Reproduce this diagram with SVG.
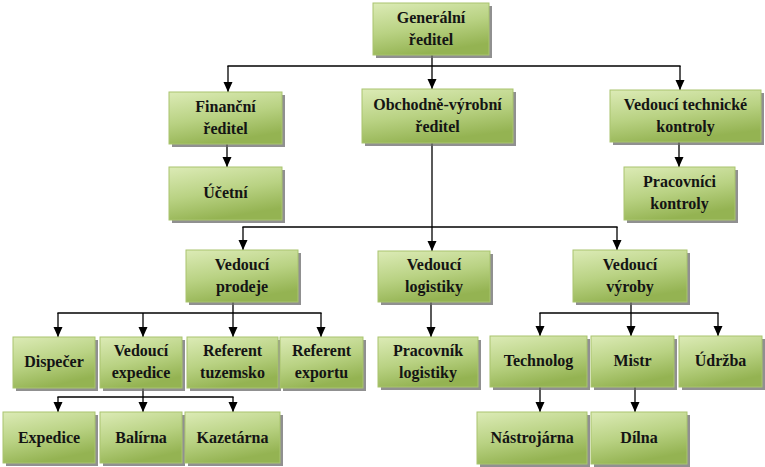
<svg xmlns="http://www.w3.org/2000/svg" width="765" height="467" viewBox="0 0 765 467">
<defs>
<linearGradient id="g" x1="0" y1="0" x2="0.35" y2="1">
<stop offset="0" stop-color="#dcebb6"/>
<stop offset="0.55" stop-color="#b9d283"/>
<stop offset="1" stop-color="#94b352"/>
</linearGradient>
<marker id="ah" markerUnits="userSpaceOnUse" markerWidth="10" markerHeight="10" viewBox="0 0 10 10" refX="10" refY="5" orient="auto">
<path d="M0,0.5 L10,5 L0,9.5 Z" fill="#000"/>
</marker>
</defs>
<style>
.b rect.s{fill:#6b6b6b;opacity:0.75}
.b rect.f{fill:url(#g);stroke:#a9c46f;stroke-width:1}
.b text{font-family:"Liberation Serif","Times New Roman",serif;font-weight:bold;font-size:16px;fill:#141414;text-anchor:middle}
.c line{stroke:#000;stroke-width:1.3}
.c line.a{marker-end:url(#ah)}
</style>
<rect width="765" height="467" fill="#fff"/>
<g class="c" id="connectors">
<line x1="432" y1="55" x2="432" y2="66"/>
<line x1="227.4" y1="66" x2="680.6" y2="66"/>
<line class="a" x1="228" y1="66" x2="228" y2="92"/>
<line class="a" x1="432" y1="66" x2="432" y2="89"/>
<line class="a" x1="680" y1="66" x2="680" y2="90"/>
<line class="a" x1="227" y1="144" x2="227" y2="167"/>
<line class="a" x1="679" y1="142" x2="679" y2="167"/>
<line x1="432" y1="143" x2="432" y2="227"/>
<line x1="242.4" y1="227" x2="617.6" y2="227"/>
<line class="a" x1="243" y1="227" x2="243" y2="250"/>
<line class="a" x1="432" y1="227" x2="432" y2="251"/>
<line class="a" x1="617" y1="227" x2="617" y2="250"/>
<line x1="233" y1="302" x2="233" y2="313"/>
<line x1="57.4" y1="313" x2="321.6" y2="313"/>
<line class="a" x1="58" y1="313" x2="58" y2="337"/>
<line class="a" x1="143" y1="313" x2="143" y2="337"/>
<line class="a" x1="233" y1="313" x2="233" y2="337"/>
<line class="a" x1="321" y1="313" x2="321" y2="337"/>
<line x1="143" y1="388" x2="143" y2="397"/>
<line x1="57.4" y1="397" x2="233.6" y2="397"/>
<line class="a" x1="58" y1="397" x2="58" y2="412"/>
<line class="a" x1="143" y1="397" x2="143" y2="412"/>
<line class="a" x1="233" y1="397" x2="233" y2="412"/>
<line class="a" x1="431" y1="302" x2="431" y2="337"/>
<line x1="631" y1="302" x2="631" y2="313"/>
<line x1="539.4" y1="313" x2="718.6" y2="313"/>
<line class="a" x1="540" y1="313" x2="540" y2="336"/>
<line class="a" x1="631" y1="313" x2="631" y2="336"/>
<line class="a" x1="718" y1="313" x2="718" y2="336"/>
<line class="a" x1="540" y1="387" x2="540" y2="412"/>
<line class="a" x1="635" y1="387" x2="635" y2="412"/>
</g>
<g class="b" id="generalni">
<rect class="s" x="376" y="6" width="116" height="52"/><rect class="f" x="373" y="3" width="116" height="52"/>
<text x="431" y="23">Generální</text><text x="431" y="45">ředitel</text>
</g>
<g class="b" id="financni">
<rect class="s" x="172" y="95" width="113" height="52"/><rect class="f" x="169" y="92" width="113" height="52"/>
<text x="225.5" y="112">Finanční</text><text x="225.5" y="134">ředitel</text>
</g>
<g class="b" id="obchodne">
<rect class="s" x="365" y="92" width="151" height="54"/><rect class="f" x="362" y="89" width="151" height="54"/>
<text x="437.5" y="110">Obchodně-výrobní</text><text x="437.5" y="132">ředitel</text>
</g>
<g class="b" id="vtk">
<rect class="s" x="613" y="93" width="151" height="52"/><rect class="f" x="610" y="90" width="151" height="52"/>
<text x="685.5" y="110">Vedoucí technické</text><text x="685.5" y="132">kontroly</text>
</g>
<g class="b" id="ucetni">
<rect class="s" x="172" y="170" width="113" height="53"/><rect class="f" x="169" y="167" width="113" height="53"/>
<text x="225.5" y="198">Účetní</text>
</g>
<g class="b" id="pracovnici">
<rect class="s" x="627" y="170" width="111" height="53"/><rect class="f" x="624" y="167" width="111" height="53"/>
<text x="679.5" y="187">Pracovníci</text><text x="679.5" y="209">kontroly</text>
</g>
<g class="b" id="vprodeje">
<rect class="s" x="189" y="253" width="112" height="52"/><rect class="f" x="186" y="250" width="112" height="52"/>
<text x="242" y="270">Vedoucí</text><text x="242" y="292">prodeje</text>
</g>
<g class="b" id="vlogistiky">
<rect class="s" x="381" y="254" width="112" height="51"/><rect class="f" x="378" y="251" width="112" height="51"/>
<text x="434" y="270">Vedoucí</text><text x="434" y="292">logistiky</text>
</g>
<g class="b" id="vvyroby">
<rect class="s" x="576" y="253" width="114" height="52"/><rect class="f" x="573" y="250" width="114" height="52"/>
<text x="630" y="270">Vedoucí</text><text x="630" y="292">výroby</text>
</g>
<g class="b" id="dispecer">
<rect class="s" x="16" y="340" width="82" height="51"/><rect class="f" x="13" y="337" width="82" height="51"/>
<text x="54" y="367">Dispečer</text>
</g>
<g class="b" id="vexpedice">
<rect class="s" x="103" y="340" width="82" height="51"/><rect class="f" x="100" y="337" width="82" height="51"/>
<text x="141" y="356">Vedoucí</text><text x="141" y="378">expedice</text>
</g>
<g class="b" id="rtuzemsko">
<rect class="s" x="190" y="340" width="91" height="51"/><rect class="f" x="187" y="337" width="91" height="51"/>
<text x="232.5" y="356">Referent</text><text x="232.5" y="378">tuzemsko</text>
</g>
<g class="b" id="rexportu">
<rect class="s" x="283" y="340" width="83" height="51"/><rect class="f" x="280" y="337" width="83" height="51"/>
<text x="321.5" y="356">Referent</text><text x="321.5" y="378">exportu</text>
</g>
<g class="b" id="plogistiky">
<rect class="s" x="381" y="340" width="100" height="50"/><rect class="f" x="378" y="337" width="100" height="50"/>
<text x="428" y="356">Pracovník</text><text x="428" y="378">logistiky</text>
</g>
<g class="b" id="technolog">
<rect class="s" x="493" y="339" width="97" height="51"/><rect class="f" x="490" y="336" width="97" height="51"/>
<text x="538.5" y="366">Technolog</text>
</g>
<g class="b" id="mistr">
<rect class="s" x="594" y="339" width="83" height="51"/><rect class="f" x="591" y="336" width="83" height="51"/>
<text x="632.5" y="366">Mistr</text>
</g>
<g class="b" id="udrzba">
<rect class="s" x="682" y="339" width="83" height="51"/><rect class="f" x="679" y="336" width="83" height="51"/>
<text x="720.5" y="366">Údržba</text>
</g>
<g class="b" id="expedice">
<rect class="s" x="6" y="415" width="92" height="51"/><rect class="f" x="3" y="412" width="92" height="51"/>
<text x="49" y="443">Expedice</text>
</g>
<g class="b" id="balirna">
<rect class="s" x="103" y="415" width="82" height="51"/><rect class="f" x="100" y="412" width="82" height="51"/>
<text x="141" y="443">Balírna</text>
</g>
<g class="b" id="kazetarna">
<rect class="s" x="188" y="415" width="95" height="51"/><rect class="f" x="185" y="412" width="95" height="51"/>
<text x="232.5" y="443">Kazetárna</text>
</g>
<g class="b" id="nastrojarna">
<rect class="s" x="480" y="415" width="110" height="52"/><rect class="f" x="477" y="412" width="110" height="52"/>
<text x="532" y="443">Nástrojárna</text>
</g>
<g class="b" id="dilna">
<rect class="s" x="594" y="415" width="96" height="52"/><rect class="f" x="591" y="412" width="96" height="52"/>
<text x="639" y="443">Dílna</text>
</g>
</svg>
